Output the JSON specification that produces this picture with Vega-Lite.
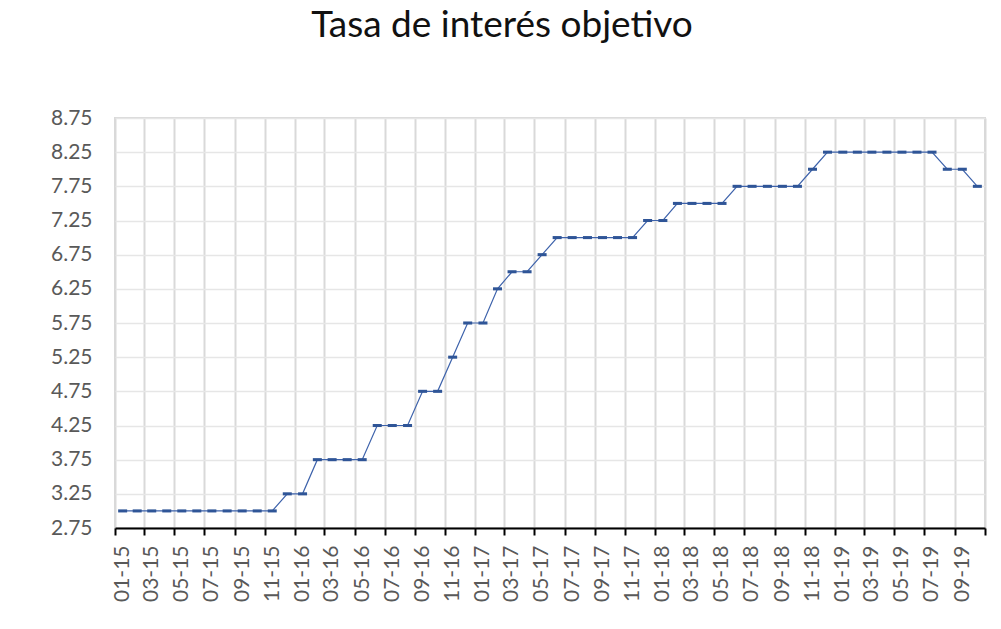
{
  "$schema": "https://vega.github.io/schema/vega-lite/v6.json",
  "width": 870,
  "height": 410,
  "autosize": {"type": "none"},
  "padding": {"left": 115, "top": 118, "right": 16, "bottom": 101},
  "background": "white",
  "title": {
    "text": "Tasa de interés objetivo",
    "font": "Lato",
    "fontSize": 37,
    "fontWeight": "normal",
    "color": "#111111",
    "anchor": "middle",
    "offset": 62,
    "dx": -48
  },
  "config": {
    "view": {"stroke": "#d9d9d9", "strokeWidth": 2},
    "axis": {"labelFont": "Lato", "labelColor": "#595959", "labelFontSize": 21}
  },
  "data": {
    "values": [
      {"fecha": "2015-01-01", "tasa": 3.00},
      {"fecha": "2015-02-01", "tasa": 3.00},
      {"fecha": "2015-03-01", "tasa": 3.00},
      {"fecha": "2015-04-01", "tasa": 3.00},
      {"fecha": "2015-05-01", "tasa": 3.00},
      {"fecha": "2015-06-01", "tasa": 3.00},
      {"fecha": "2015-07-01", "tasa": 3.00},
      {"fecha": "2015-08-01", "tasa": 3.00},
      {"fecha": "2015-09-01", "tasa": 3.00},
      {"fecha": "2015-10-01", "tasa": 3.00},
      {"fecha": "2015-11-01", "tasa": 3.00},
      {"fecha": "2015-12-01", "tasa": 3.25},
      {"fecha": "2016-01-01", "tasa": 3.25},
      {"fecha": "2016-02-01", "tasa": 3.75},
      {"fecha": "2016-03-01", "tasa": 3.75},
      {"fecha": "2016-04-01", "tasa": 3.75},
      {"fecha": "2016-05-01", "tasa": 3.75},
      {"fecha": "2016-06-01", "tasa": 4.25},
      {"fecha": "2016-07-01", "tasa": 4.25},
      {"fecha": "2016-08-01", "tasa": 4.25},
      {"fecha": "2016-09-01", "tasa": 4.75},
      {"fecha": "2016-10-01", "tasa": 4.75},
      {"fecha": "2016-11-01", "tasa": 5.25},
      {"fecha": "2016-12-01", "tasa": 5.75},
      {"fecha": "2017-01-01", "tasa": 5.75},
      {"fecha": "2017-02-01", "tasa": 6.25},
      {"fecha": "2017-03-01", "tasa": 6.50},
      {"fecha": "2017-04-01", "tasa": 6.50},
      {"fecha": "2017-05-01", "tasa": 6.75},
      {"fecha": "2017-06-01", "tasa": 7.00},
      {"fecha": "2017-07-01", "tasa": 7.00},
      {"fecha": "2017-08-01", "tasa": 7.00},
      {"fecha": "2017-09-01", "tasa": 7.00},
      {"fecha": "2017-10-01", "tasa": 7.00},
      {"fecha": "2017-11-01", "tasa": 7.00},
      {"fecha": "2017-12-01", "tasa": 7.25},
      {"fecha": "2018-01-01", "tasa": 7.25},
      {"fecha": "2018-02-01", "tasa": 7.50},
      {"fecha": "2018-03-01", "tasa": 7.50},
      {"fecha": "2018-04-01", "tasa": 7.50},
      {"fecha": "2018-05-01", "tasa": 7.50},
      {"fecha": "2018-06-01", "tasa": 7.75},
      {"fecha": "2018-07-01", "tasa": 7.75},
      {"fecha": "2018-08-01", "tasa": 7.75},
      {"fecha": "2018-09-01", "tasa": 7.75},
      {"fecha": "2018-10-01", "tasa": 7.75},
      {"fecha": "2018-11-01", "tasa": 8.00},
      {"fecha": "2018-12-01", "tasa": 8.25},
      {"fecha": "2019-01-01", "tasa": 8.25},
      {"fecha": "2019-02-01", "tasa": 8.25},
      {"fecha": "2019-03-01", "tasa": 8.25},
      {"fecha": "2019-04-01", "tasa": 8.25},
      {"fecha": "2019-05-01", "tasa": 8.25},
      {"fecha": "2019-06-01", "tasa": 8.25},
      {"fecha": "2019-07-01", "tasa": 8.25},
      {"fecha": "2019-08-01", "tasa": 8.00},
      {"fecha": "2019-09-01", "tasa": 8.00},
      {"fecha": "2019-10-01", "tasa": 7.75}
    ]
  },
  "encoding": {
    "x": {
      "field": "fecha",
      "timeUnit": "utcyearmonth",
      "type": "temporal",
      "bandPosition": 0.5,
      "title": null,
      "scale": {
        "type": "utc",
        "nice": false,
        "domain": [
          {"year": 2015, "month": 1, "date": 1, "utc": true},
          {"year": 2019, "month": 11, "date": 1, "utc": true}
        ]
      },
      "axis": {
        "values": [
          {"year": 2015, "month": 1, "date": 1, "utc": true},
          {"year": 2015, "month": 3, "date": 1, "utc": true},
          {"year": 2015, "month": 5, "date": 1, "utc": true},
          {"year": 2015, "month": 7, "date": 1, "utc": true},
          {"year": 2015, "month": 9, "date": 1, "utc": true},
          {"year": 2015, "month": 11, "date": 1, "utc": true},
          {"year": 2016, "month": 1, "date": 1, "utc": true},
          {"year": 2016, "month": 3, "date": 1, "utc": true},
          {"year": 2016, "month": 5, "date": 1, "utc": true},
          {"year": 2016, "month": 7, "date": 1, "utc": true},
          {"year": 2016, "month": 9, "date": 1, "utc": true},
          {"year": 2016, "month": 11, "date": 1, "utc": true},
          {"year": 2017, "month": 1, "date": 1, "utc": true},
          {"year": 2017, "month": 3, "date": 1, "utc": true},
          {"year": 2017, "month": 5, "date": 1, "utc": true},
          {"year": 2017, "month": 7, "date": 1, "utc": true},
          {"year": 2017, "month": 9, "date": 1, "utc": true},
          {"year": 2017, "month": 11, "date": 1, "utc": true},
          {"year": 2018, "month": 1, "date": 1, "utc": true},
          {"year": 2018, "month": 3, "date": 1, "utc": true},
          {"year": 2018, "month": 5, "date": 1, "utc": true},
          {"year": 2018, "month": 7, "date": 1, "utc": true},
          {"year": 2018, "month": 9, "date": 1, "utc": true},
          {"year": 2018, "month": 11, "date": 1, "utc": true},
          {"year": 2019, "month": 1, "date": 1, "utc": true},
          {"year": 2019, "month": 3, "date": 1, "utc": true},
          {"year": 2019, "month": 5, "date": 1, "utc": true},
          {"year": 2019, "month": 7, "date": 1, "utc": true},
          {"year": 2019, "month": 9, "date": 1, "utc": true},
          {"year": 2019, "month": 11, "date": 1, "utc": true}
        ],
        "labelExpr": "utcyear(datum.value) == 2019 && utcmonth(datum.value) == 10 ? '' : utcFormat(datum.value, '%m-%y')",
        "labelAngle": -90,
        "labelOffset": 7.5,
        "labelPadding": 10,
        "labelOverlap": false,
        "labelFlush": false,
        "labelBound": false,
        "domainColor": "#000000",
        "domainWidth": 2,
        "tickColor": "#000000",
        "tickWidth": 2,
        "tickSize": 7,
        "grid": true,
        "gridColor": "#d9d9d9",
        "gridWidth": 2
      }
    },
    "y": {
      "field": "tasa",
      "type": "quantitative",
      "title": null,
      "scale": {"domain": [2.75, 8.75], "nice": false, "zero": false},
      "axis": {
        "values": [2.75, 3.25, 3.75, 4.25, 4.75, 5.25, 5.75, 6.25, 6.75, 7.25, 7.75, 8.25, 8.75],
        "format": ".2f",
        "domain": false,
        "ticks": false,
        "labelPadding": 23,
        "grid": true,
        "gridColor": "#e6e6e6",
        "gridWidth": 1.5
      }
    }
  },
  "layer": [
    {
      "mark": {"type": "line", "color": "#3d62ab", "strokeWidth": 1.2}
    },
    {
      "mark": {
        "type": "point",
        "shape": "M-1,-0.34H1V0.34H-1Z",
        "size": 81,
        "filled": true,
        "color": "#2f5597",
        "opacity": 1
      }
    }
  ]
}
